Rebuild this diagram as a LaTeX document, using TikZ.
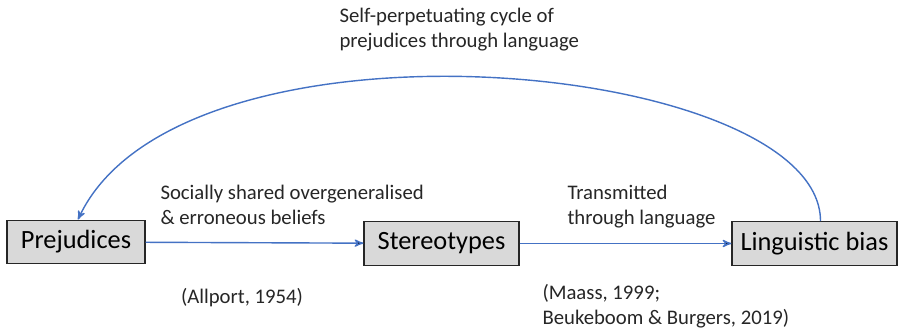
\documentclass[tikz,border=0pt]{standalone}
\usepackage{fontspec}
\setmainfont{Carlito}
\usepackage{tikz}
\usetikzlibrary{arrows}

\begin{document}
\begin{tikzpicture}[x=0.02cm, y=-0.02cm, ->, >=stealth', semithick,
	box/.style={draw=black!85, fill=black!15, line width=0.8pt, minimum height=0.87cm, inner xsep=0pt, font=\fontsize{15}{18}\selectfont},
	lbl/.style={align=left, text=black!85, inner sep=0pt, font=\fontsize{11.8}{14.2}\selectfont},
	flow/.style={draw={rgb,255:red,68;green,114;blue,196}, line width=0.8pt}]
		\useasboundingbox (0, 0) rectangle (904, 330);
		\node[box, minimum width=2.76cm] (prej) at (76, 242) {Prejudices};
		\node[box, minimum width=3.1cm] (stereo) at (441.5, 243.5) {Stereotypes};
		\node[box, minimum width=3.3cm] (ling) at (814.5, 243.5) {Linguistic bias};

		\node[lbl, anchor=west] (shared) at (160, 205) {Socially shared overgeneralised\\\& erroneous beliefs};
		\node[lbl] (allport) at (242, 298) {(Allport, 1954)};
		\node[lbl, anchor=west] (transm) at (567, 207) {Transmitted\\through language};
		\node[lbl, anchor=west] (maass) at (542, 306) {(Maass, 1999;\\Beukeboom \& Burgers, 2019)};
		\node[lbl, anchor=west] (cycle) at (339, 30) {Self-perpetuating cycle of\\prejudices through language};

		\path[flow] (prej) edge (stereo)
			(stereo) edge (ling);
		\draw[flow] (ling.75) .. controls (820, 60) and (180, 0) .. (prej.85);
	\end{tikzpicture}
\end{document}
